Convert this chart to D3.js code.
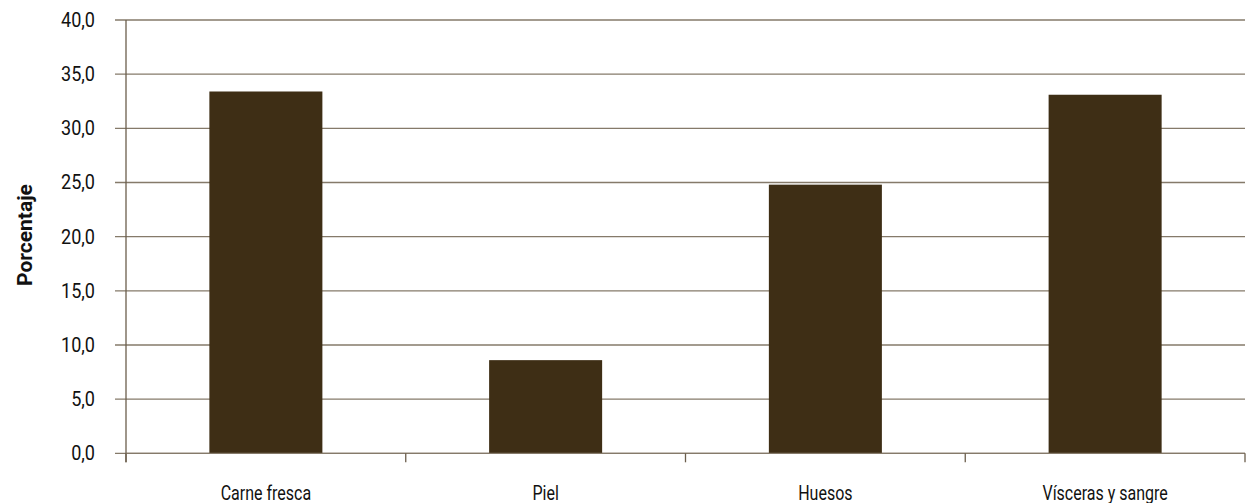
<!DOCTYPE html>
<html>
<head>
<meta charset="utf-8">
<script src="https://cdn.jsdelivr.net/npm/d3@7/dist/d3.min.js"></script>
<style>
  html, body { margin: 0; padding: 0; background: #ffffff; }
  svg { display: block; }
  .lbl { font-family: Roboto, "Noto Sans", sans-serif; fill: #111; }
</style>
</head>
<body>
<svg id="chart" width="1247" height="503"></svg>
<script>
// Composición del animal, en porcentaje
const categories = ["Carne fresca", "Piel", "Huesos", "Vísceras y sangre"];
const values = [33.4, 8.6, 24.8, 33.1];
const yTicks = [0, 5, 10, 15, 20, 25, 30, 35, 40];
const yLabel = "Porcentaje";

const svg = d3.select("#chart");
const plotLeft = 126, plotRight = 1245, plotTop = 20, plotBottom = 453.3;

const x = d3.scaleBand().domain(categories).range([plotLeft, plotRight]).padding(0);
const y = d3.scaleLinear().domain([0, 40]).range([plotBottom, plotTop]);

const fmt = v => d3.format(".1f")(v).replace(".", ",");
const gridColor = "#857a6a";
const axisColor = "#6b5e4c";

// horizontal gridlines with outward ticks
svg.append("g")
  .selectAll("line")
  .data(yTicks)
  .join("line")
  .attr("x1", plotLeft - 11)
  .attr("x2", plotRight)
  .attr("y1", d => y(d))
  .attr("y2", d => y(d))
  .attr("stroke", gridColor)
  .attr("stroke-width", 1.3);

// bars
const barFrac = 0.404;
svg.append("g")
  .selectAll("rect")
  .data(values)
  .join("rect")
  .attr("x", (d, i) => x(categories[i]) + x.bandwidth() * (1 - barFrac) / 2)
  .attr("width", x.bandwidth() * barFrac)
  .attr("y", d => y(d))
  .attr("height", d => y(0) - y(d))
  .attr("fill", "#3e2e15");

// y axis line
svg.append("line")
  .attr("x1", plotLeft).attr("x2", plotLeft)
  .attr("y1", plotTop).attr("y2", plotBottom + 9)
  .attr("stroke", axisColor).attr("stroke-width", 1.3);

// x axis baseline and category separators
svg.append("line")
  .attr("x1", plotLeft).attr("x2", plotRight)
  .attr("y1", plotBottom).attr("y2", plotBottom)
  .attr("stroke", gridColor).attr("stroke-width", 1.3);

const seps = categories.map(c => x(c)).concat([x(categories[categories.length - 1]) + x.bandwidth()]);
svg.append("g")
  .selectAll("line")
  .data(seps)
  .join("line")
  .attr("x1", d => d).attr("x2", d => d)
  .attr("y1", plotBottom).attr("y2", plotBottom + 9)
  .attr("stroke", axisColor).attr("stroke-width", 1.3);

// y tick labels
svg.append("g")
  .selectAll("text")
  .data(yTicks)
  .join("text")
  .attr("class", "lbl")
  .attr("transform", d => `translate(95,${y(d) + 7}) scale(0.95,1.05)`)
  .attr("text-anchor", "end")
  .attr("font-size", 19)
  .text(d => fmt(d));

// category labels (condensed)
svg.append("g")
  .selectAll("text")
  .data(categories)
  .join("text")
  .attr("class", "lbl")
  .attr("transform", d => `translate(${x(d) + x.bandwidth() / 2},500) scale(0.8,1)`)
  .attr("text-anchor", "middle")
  .attr("font-size", 20)
  .text(d => d);

// y axis title
svg.append("text")
  .attr("class", "lbl")
  .attr("transform", "translate(32,235) rotate(-90) scale(1,0.92)")
  .attr("text-anchor", "middle")
  .attr("font-size", 21)
  .style("font-weight", 700)
  .text(yLabel);
</script>
</body>
</html>
